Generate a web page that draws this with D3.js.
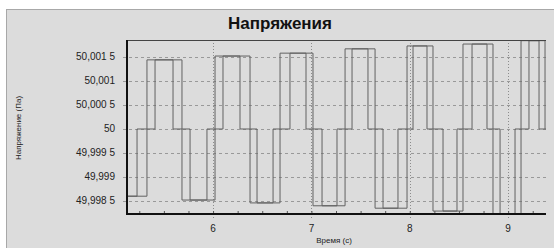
<!DOCTYPE html>
<html lang="ru">

<head>
    <meta charset="UTF-8">
    <title>Напряжения</title>
    <script src="https://cdn.jsdelivr.net/npm/d3@7"></script>
    <style>
        body { margin: 0; background: #fff; }
        text { font-family: "Liberation Sans", Arial, sans-serif; fill: #222; }
    </style>
</head>

<body>
    <svg></svg>
</body>
<script>
    // tick values / labels
    const yTickValues = [49.9985, 49.999, 49.9995, 50, 50.0005, 50.001, 50.0015];
    const yTickLabels = ['49,998 5', '49,999', '49,999 5', '50', '50,000 5', '50,001', '50,001 5'];
    const xTickValues = [6, 7, 8, 9];

    // trace 1: plain square wave low <-> high (step after each time)
    const trace1Times = [5.10, 5.328, 5.684, 6.020, 6.376, 6.681, 7.016, 7.342, 7.647, 7.972, 8.236, 8.541, 8.846, 9.131, 9.375];
    const trace1Values = [49.99860, 50.00144, 49.99852, 50.00152, 49.99846, 50.00158, 49.99840, 50.00167, 49.99835, 50.00173, 49.99829, 50.00177, 49.99821, 50.00184, 50];

    // trace 2: same wave, but passing through 50 around every edge
    const trace2Times = [5.10, 5.227, 5.410, 5.593, 5.766, 5.938, 6.101, 6.274, 6.447, 6.610, 6.782, 6.945, 7.108, 7.260, 7.413, 7.575, 7.728, 7.880, 8.033, 8.175, 8.338, 8.480, 8.633, 8.785, 8.918, 9.070, 9.212, 9.314, 9.40];
    const trace2Values = [49.99860, 50, 50.00144, 50, 49.99852, 50, 50.00152, 50, 49.99846, 50, 50.00158, 50, 49.99840, 50, 50.00167, 50, 49.99835, 50, 50.00173, 50, 49.99829, 50, 50.00177, 50, 49.99821, 50, 50.00184, 50, 50];

    const width = 554, height = 248;
    const plotLeft = 127, plotRight = 546, plotTop = 40, plotBottom = 214;

    const svg = d3.select('svg')
        .attr('width', width)
        .attr('height', height);

    // grey panel with a light border on top / left
    svg.append('rect')
        .attr('x', 6.5).attr('y', 9.5)
        .attr('width', width).attr('height', height)
        .attr('fill', '#dcdcdc')
        .attr('stroke', '#a8a8a8');

    const x = d3.scaleLinear().domain([5.125, 9.385]).range([plotLeft, plotRight]);
    const y = d3.scaleLinear().domain([49.998229, 50.001854]).range([plotBottom, plotTop]);

    // title
    svg.append('text')
        .attr('x', 280).attr('y', 29)
        .attr('text-anchor', 'middle')
        .attr('font-size', 17)
        .attr('font-weight', 'bold')
        .style('fill', '#111')
        .text('Напряжения');

    // horizontal dashed grid
    svg.append('g')
        .selectAll('line')
        .data(yTickValues)
        .join('line')
        .attr('x1', plotLeft - 4).attr('x2', plotRight)
        .attr('y1', d => Math.round(y(d)) + 0.5).attr('y2', d => Math.round(y(d)) + 0.5)
        .attr('stroke', '#999')
        .attr('stroke-dasharray', '3,3');

    // vertical dotted grid at whole seconds
    svg.append('g')
        .selectAll('line')
        .data(xTickValues)
        .join('line')
        .attr('x1', d => Math.round(x(d)) + 0.5).attr('x2', d => Math.round(x(d)) + 0.5)
        .attr('y1', plotTop).attr('y2', plotBottom + 4)
        .attr('stroke', '#8c8c8c')
        .attr('stroke-dasharray', '1,2');

    // y labels
    svg.append('g')
        .selectAll('text')
        .data(yTickValues)
        .join('text')
        .attr('x', 115)
        .attr('y', d => y(d))
        .attr('dy', '0.35em')
        .attr('text-anchor', 'end')
        .attr('font-size', 10)
        .text((d, i) => yTickLabels[i]);

    // bottom axis, minor ticks every 0.25 s
    const xAxis = d3.axisBottom(x)
        .tickValues(d3.range(5.25, 9.3, 0.25))
        .tickSize(-3)
        .tickFormat('');
    svg.append('g')
        .attr('transform', `translate(0, ${plotBottom})`)
        .call(xAxis)
        .call(g => g.select('.domain').remove())
        .selectAll('line').attr('stroke', '#555');

    svg.append('g')
        .selectAll('text')
        .data(xTickValues)
        .join('text')
        .attr('x', d => x(d))
        .attr('y', 232)
        .attr('text-anchor', 'middle')
        .attr('font-size', 10)
        .text(d => d);

    // axis titles
    svg.append('text')
        .attr('x', 334).attr('y', 243)
        .attr('text-anchor', 'middle')
        .attr('font-size', 8)
        .text('Время (с)');
    svg.append('text')
        .attr('transform', 'translate(21, 128) rotate(-90)')
        .attr('text-anchor', 'middle')
        .attr('font-size', 8)
        .text('Напряжение (Па)');

    // traces
    svg.append('clipPath').attr('id', 'plot')
        .append('rect')
        .attr('x', plotLeft).attr('y', plotTop)
        .attr('width', plotRight - plotLeft).attr('height', plotBottom - plotTop);

    const line = d3.line()
        .x(d => x(d[0]))
        .y(d => y(d[1]))
        .curve(d3.curveStepAfter);

    const traces = [
        trace1Times.map((t, i) => [t, trace1Values[i]]),
        trace2Times.map((t, i) => [t, trace2Values[i]])
    ];

    svg.append('g')
        .attr('clip-path', 'url(#plot)')
        .selectAll('path')
        .data(traces)
        .join('path')
        .attr('d', line)
        .attr('fill', 'none')
        .attr('stroke', '#626262')
        .attr('stroke-width', 1);

    // frame: thin top line, heavy left / bottom axis lines
    svg.append('line')
        .attr('x1', plotLeft).attr('x2', plotRight)
        .attr('y1', plotTop + 0.5).attr('y2', plotTop + 0.5)
        .attr('stroke', '#444');
    svg.append('line')
        .attr('x1', plotLeft).attr('x2', plotLeft)
        .attr('y1', plotTop).attr('y2', plotBottom + 1)
        .attr('stroke', '#111').attr('stroke-width', 2);
    svg.append('line')
        .attr('x1', plotLeft - 1).attr('x2', plotRight)
        .attr('y1', plotBottom).attr('y2', plotBottom)
        .attr('stroke', '#111').attr('stroke-width', 2);
</script>

</html>
